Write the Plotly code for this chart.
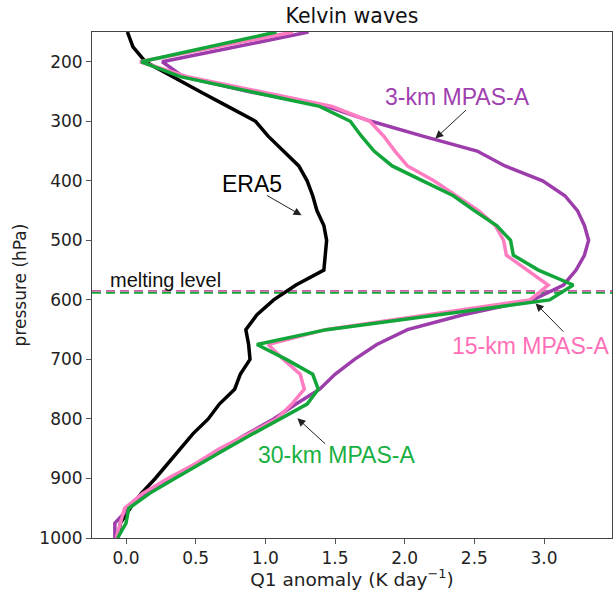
import plotly.graph_objects as go

pressure = [150, 175, 200, 225, 250, 275, 300, 325, 350, 375, 400, 425, 450, 475, 500,
            525, 550, 575, 600, 625, 650, 675, 700, 725, 750, 775, 800, 825, 850, 875,
            900, 925, 950, 975, 1000]

era5 = [0.01, 0.05, 0.14, 0.33, 0.53, 0.73, 0.93, 1.02, 1.13, 1.24, 1.30, 1.34, 1.37, 1.42, 1.44,
        1.43, 1.42, 1.22, 1.06, 0.94, 0.86, 0.88, 0.89, 0.82, 0.78, 0.67, 0.59, 0.48, 0.39, 0.30,
        0.21, 0.11, 0.03, -0.04, -0.06]

mpas3 = [1.31, 0.78, 0.26, 0.41, 0.88, 1.44, 1.76, 2.13, 2.52, 2.72, 2.99, 3.15, 3.24, 3.29, 3.32,
         3.29, 3.23, 3.14, 2.92, 2.42, 2.02, 1.80, 1.64, 1.50, 1.39, 1.22, 1.06, 0.87, 0.69, 0.51,
         0.34, 0.15, 0.02, -0.08, -0.08]

mpas15 = [1.20, 0.65, 0.10, 0.44, 0.97, 1.48, 1.75, 1.85, 1.93, 2.02, 2.21, 2.37, 2.53, 2.65, 2.71,
          2.73, 2.88, 3.03, 2.90, 2.16, 1.43, 1.02, 1.13, 1.25, 1.28, 1.19, 1.08, 0.88, 0.67, 0.50,
          0.30, 0.12, -0.01, -0.04, -0.07]

mpas30 = [1.08, 0.60, 0.11, 0.39, 0.88, 1.39, 1.61, 1.69, 1.78, 1.91, 2.13, 2.35, 2.50, 2.66, 2.76,
          2.78, 2.96, 3.21, 3.04, 2.24, 1.44, 0.94, 1.15, 1.34, 1.38, 1.30, 1.10, 0.91, 0.72, 0.53,
          0.35, 0.17, 0.02, 0.00, -0.06]

melting_level = {"3-km": 585, "15-km": 586, "30-km": 588}
x_range = [-0.244, 3.488]
p_range = [1000, 150]
y_ticks = [200, 300, 400, 500, 600, 700, 800, 900, 1000]
x_ticks = [0.0, 0.5, 1.0, 1.5, 2.0, 2.5, 3.0]

C_ERA = "#000000"
C3 = "#9c3dab"
C15 = "#ff7dc0"
C30 = "#12a63a"

fig = go.Figure()

# melting level dashed lines
for name, col in [("3-km", C3), ("15-km", C15), ("30-km", C30)]:
    fig.add_trace(go.Scatter(x=x_range, y=[melting_level[name]] * 2, mode="lines",
                             line=dict(color=col, width=2, dash="9px,5px"),
                             hoverinfo="skip", showlegend=False))

fig.add_trace(go.Scatter(x=era5, y=pressure, mode="lines", line=dict(color=C_ERA, width=3.5), showlegend=False))
fig.add_trace(go.Scatter(x=mpas3, y=pressure, mode="lines", line=dict(color=C3, width=3.5), showlegend=False))
fig.add_trace(go.Scatter(x=mpas15, y=pressure, mode="lines", line=dict(color=C15, width=3.5), showlegend=False))
fig.add_trace(go.Scatter(x=mpas30, y=pressure, mode="lines", line=dict(color=C30, width=3.5), showlegend=False))

ann_font = "Liberation Sans, Arial, sans-serif"
labels = [
    ("ERA5", 0.905, 406, "#000000", (1.00, 423), (1.26, 458)),
    ("3-km MPAS-A", 2.38, 260, "#a040b0", (2.45, 279), (2.22, 329)),
    ("15-km MPAS-A", 2.90, 678, "#ff6fb8", (3.15, 656), (2.94, 606)),
    ("30-km MPAS-A", 1.51, 861, "#19b043", (1.44, 844), (1.23, 799)),
]
for text, tx, ty, col, tail, head in labels:
    fig.add_annotation(x=tx, y=ty, text=text, showarrow=False,
                       font=dict(family=ann_font, size=23, color=col),
                       xanchor="center", yanchor="middle")
    fig.add_annotation(x=head[0], y=head[1], ax=tail[0], ay=tail[1],
                       axref="x", ayref="y", xref="x", yref="y", text="",
                       showarrow=True, arrowhead=2, arrowsize=1.6, arrowwidth=1,
                       arrowcolor="#222222", standoff=0, startstandoff=0)

fig.add_annotation(x=-0.13, y=566, text="melting level", showarrow=False,
                   font=dict(family=ann_font, size=20, color="#111111"),
                   xanchor="left", yanchor="middle")

fig.update_layout(
    width=614, height=590,
    margin=dict(l=92, r=2, t=32, b=52),
    paper_bgcolor="white", plot_bgcolor="white",
    title=dict(text="Kelvin waves", x=0.5732, xanchor="center", y=0.973, yanchor="middle",
               font=dict(family="DejaVu Sans", size=20.5, color="#111111")),
    font=dict(family="DejaVu Sans", size=16, color="#222222"),
)
fig.update_xaxes(range=x_range, tickvals=x_ticks, ticktext=[f"{v:.1f}" for v in x_ticks],
                 ticks="outside", ticklen=5, tickcolor="#555555", showgrid=False, zeroline=False,
                 showline=True, linecolor="#444444", linewidth=1, mirror=True,
                 tickfont=dict(size=17, family="DejaVu Sans", color="#222222"),
                 title=dict(text="Q1 anomaly (K day<sup>\u22121</sup>)", standoff=6,
                            font=dict(size=18.5, family="DejaVu Sans", color="#222222")))
fig.update_yaxes(range=p_range, tickvals=y_ticks,
                 ticks="outside", ticklen=5, tickcolor="#555555", showgrid=False, zeroline=False,
                 showline=True, linecolor="#444444", linewidth=1, mirror=True,
                 tickfont=dict(size=17, family="DejaVu Sans", color="#222222"),
                 title=dict(text="pressure (hPa)", standoff=8,
                            font=dict(size=17, family="DejaVu Sans", color="#222222")))

fig.write_html("out.html")
